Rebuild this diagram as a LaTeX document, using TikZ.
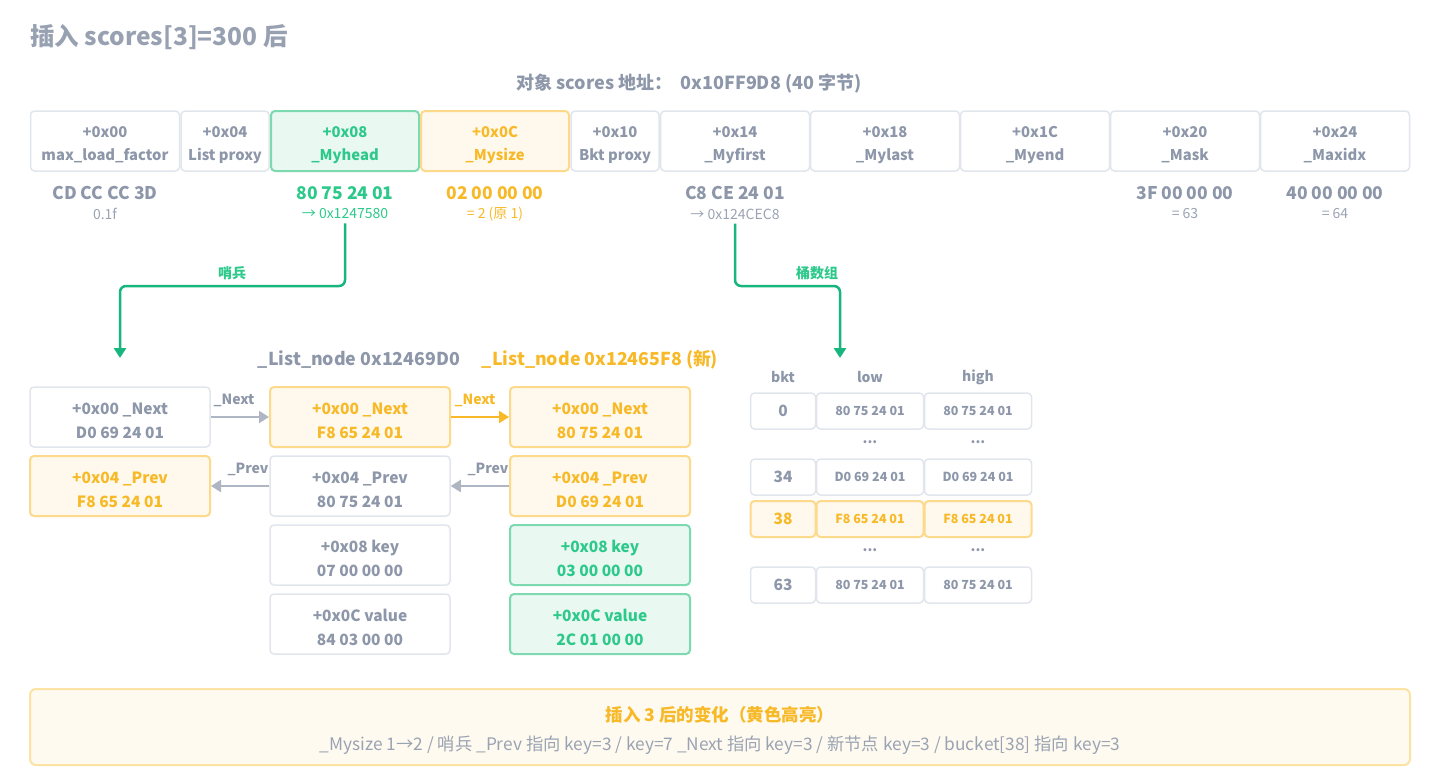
\documentclass[tikz,border=0pt]{standalone}
\usepackage{fontspec}
\setmainfont{Noto Sans CJK SC}
\usetikzlibrary{arrows.meta}
\definecolor{gtext}{HTML}{8D97A9}
\definecolor{gsub}{HTML}{9AA3B3}
\definecolor{gborder}{HTML}{E1E5EC}
\definecolor{grn}{HTML}{2DC98B}
\definecolor{grnline}{HTML}{16B67E}
\definecolor{grnfill}{HTML}{EAF8F2}
\definecolor{grnborder}{HTML}{7DD9B0}
\definecolor{ylw}{HTML}{F7B928}
\definecolor{ylwfill}{HTML}{FEF9EC}
\definecolor{ylwborder}{HTML}{FCD98B}
\definecolor{sumfill}{HTML}{FFFAEF}
\definecolor{sumborder}{HTML}{FCE3A4}
\def\cellH{16pt}
\newcommand\cellt[2]{\rule{0pt}{\cellH}#1\\\raisebox{0pt}[\height][0pt]{#2}}
\begin{document}
\begin{tikzpicture}[x=1pt,y=-1pt,
  cell/.style={draw=gborder, line width=1.5pt, rounded corners=4pt, fill=white,
    minimum height=60pt, inner sep=0pt, align=center, text=gtext,
    font=\fontsize{14.8}{23}\selectfont\bfseries},
  lcell/.style={cell, font=\fontsize{15.5}{24}\selectfont\bfseries},
  gcell/.style={draw=grnborder, fill=grnfill, text=grn, line width=2pt},
  ycell/.style={draw=ylwborder, fill=ylwfill, text=ylw, line width=2pt},
  bcell/.style={cell, minimum height=36pt, font=\fontsize{12.5}{14}\selectfont\bfseries},
  bnum/.style={bcell, font=\fontsize{15.5}{17}\selectfont\bfseries},
  val/.style={font=\fontsize{17.5}{19}\selectfont\bfseries, text=gtext, inner sep=0pt},
  sub/.style={font=\fontsize{14}{16}\selectfont, text=gsub, inner sep=0pt},
  hdr/.style={font=\fontsize{17.8}{20}\selectfont\bfseries, text=gtext, inner sep=0pt},
  lbl/.style={font=\fontsize{14}{16}\selectfont\bfseries, text=gtext, inner sep=0pt},
  garrow/.style={draw=grnline, line width=2.5pt, rounded corners=6pt,
    -{Triangle[length=10pt,width=12pt]}},
  parrow/.style={draw=gtext!70, line width=2pt, -{Triangle[length=10pt,width=12pt]}},
  yarrow/.style={draw=ylw, line width=2pt, -{Triangle[length=10pt,width=12pt]}},
]
\useasboundingbox (0,0) rectangle (1440,780);

% titles
\node[anchor=west, font=\fontsize{24.5}{26}\selectfont\bfseries, text=gtext!90, inner sep=0pt] (title) at (30,37) {插入 scores[3]=300 后};
\node[font=\fontsize{18}{20}\selectfont\bfseries, text=gtext, inner sep=0pt] (subtitle) at (689,84) {对象 scores 地址：\ \ 0x10FF9D8 (40 字节)};

% top row
\node[cell, minimum width=149pt] (f00) at (105,141) {\cellt{+0x00}{max\_load\_factor}};
\node[cell, minimum width=88pt] (f04) at (225,141) {\cellt{+0x04}{List proxy}};
\node[cell, gcell, minimum width=148pt] (f08) at (345,141) {\cellt{+0x08}{\_Myhead}};
\node[cell, ycell, minimum width=148pt] (f0c) at (495,141) {\cellt{+0x0C}{\_Mysize}};
\node[cell, minimum width=88pt] (f10) at (615,141) {\cellt{+0x10}{Bkt proxy}};
\node[cell, minimum width=149pt] (f14) at (735,141) {\cellt{+0x14}{\_Myfirst}};
\node[cell, minimum width=149pt] (f18) at (885,141) {\cellt{+0x18}{\_Mylast}};
\node[cell, minimum width=149pt] (f1c) at (1035,141) {\cellt{+0x1C}{\_Myend}};
\node[cell, minimum width=149pt] (f20) at (1185,141) {\cellt{+0x20}{\_Mask}};
\node[cell, minimum width=149pt] (f24) at (1335,141) {\cellt{+0x24}{\_Maxidx}};

% values under top row
\node[val] (v00) at (105,193) {CD CC CC 3D};
\node[sub] (s00) at (105,214) {0.1f};
\node[val, text=grn] (v08) at (345,193) {80 75 24 01};
\node[sub, text=grn] (s08) at (345,214) {→ 0x1247580};
\node[val, text=ylw] (v0c) at (495,193) {02 00 00 00};
\node[sub, text=ylw] (s0c) at (495,214) {= 2 (原 1)};
\node[val] (v14) at (735,193) {C8 CE 24 01};
\node[sub] (s14) at (735,214) {→ 0x124CEC8};
\node[val] (v20) at (1185,193) {3F 00 00 00};
\node[sub] (s20) at (1185,214) {= 63};
\node[val] (v24) at (1335,193) {40 00 00 00};
\node[sub] (s24) at (1335,214) {= 64};

% green connectors
\coordinate (sbend) at (120,286);
\coordinate (sent) at (120,358);
\draw[garrow] ([yshift=-4pt]s08.south) |- (sbend) -- (sent);
\node[lbl, text=grn] (lsent) at (232,273) {哨兵};
\coordinate (bbend) at (840,286);
\coordinate (bkt) at (840,358);
\draw[garrow] ([yshift=-4pt]s14.south) |- (bbend) -- (bkt);
\node[lbl, text=grn] (lbkt) at (817,273) {桶数组};

% list node headers
\node[hdr] (h1) at (359,360) {\_List\_node 0x12469D0};
\node[hdr, text=ylw] (h2) at (600,360) {\_List\_node 0x12465F8 (新)};

% list boxes
\def\cellH{19pt}
\node[lcell, minimum width=180pt] (a1) at (120,417) {\cellt{+0x00 \_Next}{D0 69 24 01}};
\node[lcell, ycell, minimum width=180pt] (b1) at (360,417) {\cellt{+0x00 \_Next}{F8 65 24 01}};
\node[lcell, ycell, minimum width=180pt] (c1) at (600,417) {\cellt{+0x00 \_Next}{80 75 24 01}};
\node[lcell, ycell, minimum width=180pt] (a2) at (120,486) {\cellt{+0x04 \_Prev}{F8 65 24 01}};
\node[lcell, minimum width=180pt] (b2) at (360,486) {\cellt{+0x04 \_Prev}{80 75 24 01}};
\node[lcell, ycell, minimum width=180pt] (c2) at (600,486) {\cellt{+0x04 \_Prev}{D0 69 24 01}};
\node[lcell, minimum width=180pt] (b3) at (360,555) {\cellt{+0x08 key}{07 00 00 00}};
\node[lcell, gcell, minimum width=180pt] (c3) at (600,555) {\cellt{+0x08 key}{03 00 00 00}};
\node[lcell, minimum width=180pt] (b4) at (360,624) {\cellt{+0x0C value}{84 03 00 00}};
\node[lcell, gcell, minimum width=180pt] (c4) at (600,624) {\cellt{+0x0C value}{2C 01 00 00}};

% list arrows
\draw[parrow] (a1.east) -- (b1.west);
\node[lbl] (la1) at (234,400) {\_Next};
\draw[yarrow] (b1.east) -- (c1.west);
\node[lbl, text=ylw] (lb1) at (475,400) {\_Next};
\draw[parrow] (b2.west) -- (a2.east);
\node[lbl] (la2) at (248,469) {\_Prev};
\draw[parrow] (c2.west) -- (b2.east);
\node[lbl] (lb2) at (488,469) {\_Prev};

% bucket table
\node[lbl] (tb) at (783,377) {bkt};
\node[lbl] (tl) at (870,377) {low};
\node[lbl] (th) at (978,377) {high};

\node[bnum, minimum width=65pt] (k0) at (783,411) {0};
\node[bcell, minimum width=107pt] (l0) at (870,411) {80 75 24 01};
\node[bcell, minimum width=107pt] (r0) at (978,411) {80 75 24 01};
\node[lbl] (dl1) at (870,442) {...};
\node[lbl] (dr1) at (978,442) {...};
\node[bnum, minimum width=65pt] (k34) at (783,477) {34};
\node[bcell, minimum width=107pt] (l34) at (870,477) {D0 69 24 01};
\node[bcell, minimum width=107pt] (r34) at (978,477) {D0 69 24 01};
\node[bnum, ycell, minimum width=65pt] (k38) at (783,519) {38};
\node[bcell, ycell, minimum width=107pt] (l38) at (870,519) {F8 65 24 01};
\node[bcell, ycell, minimum width=107pt] (r38) at (978,519) {F8 65 24 01};
\node[lbl] (dl2) at (870,550) {...};
\node[lbl] (dr2) at (978,550) {...};
\node[bnum, minimum width=65pt] (k63) at (783,585) {63};
\node[bcell, minimum width=107pt] (l63) at (870,585) {80 75 24 01};
\node[bcell, minimum width=107pt] (r63) at (978,585) {80 75 24 01};

% summary
\node[draw=sumborder, fill=sumfill, line width=2pt, rounded corners=6pt,
  minimum width=1380pt, minimum height=76pt, inner sep=0pt] (sum) at (720,727) {};
\node[font=\fontsize{17.5}{19}\selectfont\bfseries, text=ylw, inner sep=0pt] (sumt) at (720,715) {插入 3 后的变化（黄色高亮）};
\node[font=\fontsize{17.3}{19}\selectfont, text=gsub, inner sep=0pt] (sumb) at (720,745) {\_Mysize 1→2 / 哨兵 \_Prev 指向 key=3 / key=7 \_Next 指向 key=3 / 新节点 key=3 / bucket[38] 指向 key=3};
\end{tikzpicture}
\end{document}
